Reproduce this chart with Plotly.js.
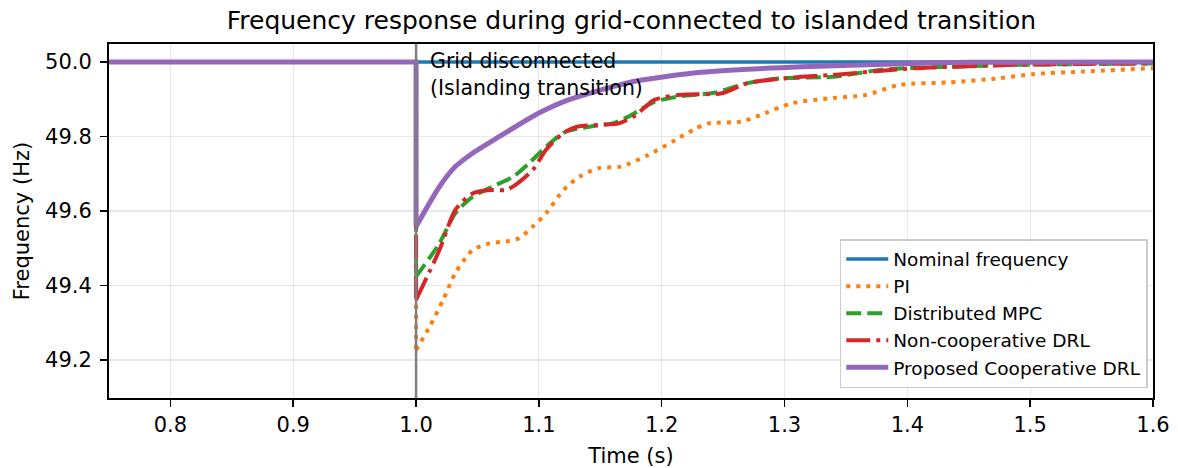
<!DOCTYPE html>
<html>
<head>
<meta charset="utf-8">
<script src="https://cdn.plot.ly/plotly-3.0.1.min.js"></script>
<style>html,body{margin:0;padding:0;background:#fff;}#chart{width:1178px;height:468px;}</style>
</head>
<body>
<div id="chart"></div>
<script>
// Time (s) and frequency (Hz) values
const preT = [0.75, 1.0];          // before the grid disconnection all controllers sit at nominal
const preF = [50.0, 50.0];

const nominalT = [0.75, 1.6];
const nominalF = [50.0, 50.0];

const piT = [1.0, 1.011, 1.022, 1.032, 1.046, 1.06, 1.073, 1.084, 1.095, 1.106, 1.12, 1.133, 1.149, 1.167, 1.189, 1.211, 1.227, 1.238, 1.265, 1.284, 1.306, 1.339, 1.366, 1.393, 1.434, 1.475, 1.502, 1.543, 1.6];
const piF = [49.227, 49.289, 49.361, 49.433, 49.495, 49.513, 49.518, 49.527, 49.558, 49.594, 49.656, 49.692, 49.715, 49.719, 49.75, 49.79, 49.82, 49.835, 49.84, 49.862, 49.889, 49.903, 49.911, 49.938, 49.945, 49.956, 49.967, 49.974, 49.983];

const mpcT = [1.0, 1.019, 1.032, 1.046, 1.062, 1.079, 1.092, 1.106, 1.122, 1.141, 1.16, 1.173, 1.194, 1.216, 1.243, 1.27, 1.298, 1.339, 1.379, 1.434, 1.488, 1.6];
const mpcF = [49.424, 49.513, 49.594, 49.638, 49.665, 49.692, 49.728, 49.773, 49.813, 49.826, 49.835, 49.853, 49.893, 49.908, 49.917, 49.943, 49.956, 49.96, 49.979, 49.987, 49.992, 49.996];

const ncT = [1.0, 1.019, 1.032, 1.046, 1.06, 1.073, 1.081, 1.095, 1.106, 1.12, 1.131, 1.149, 1.165, 1.178, 1.194, 1.216, 1.249, 1.27, 1.311, 1.339, 1.406, 1.488, 1.6];
const ncF = [49.361, 49.495, 49.603, 49.647, 49.656, 49.656, 49.67, 49.71, 49.765, 49.809, 49.826, 49.831, 49.835, 49.855, 49.898, 49.912, 49.916, 49.943, 49.959, 49.965, 49.983, 49.992, 49.996];

const propT = [1.0, 1.019, 1.032, 1.046, 1.068, 1.09, 1.102, 1.124, 1.151, 1.178, 1.232, 1.314, 1.396, 1.45, 1.6];
const propF = [49.558, 49.665, 49.719, 49.755, 49.80, 49.844, 49.866, 49.898, 49.925, 49.948, 49.972, 49.987, 49.995, 49.999, 50.0];

const xTicks = [0.8, 0.9, 1.0, 1.1, 1.2, 1.3, 1.4, 1.5, 1.6];
const yTicks = [49.2, 49.4, 49.6, 49.8, 50.0];
const eventTime = 1.0;

const series = [
  {name: 'PI', t: piT, f: piF, color: '#ff7f0e', width: 4, dash: '4px,6px'},
  {name: 'Distributed MPC', t: mpcT, f: mpcF, color: '#2ca02c', width: 4, dash: '15px,6px'},
  {name: 'Non-cooperative DRL', t: ncT, f: ncF, color: '#d62728', width: 4, dash: '24px,6px,4px,6px'},
  {name: 'Proposed Cooperative DRL', t: propT, f: propF, color: '#9467bd', width: 5, dash: 'solid'}
];

const traces = [];
traces.push({x: nominalT, y: nominalF, name: 'Nominal frequency', mode: 'lines', line: {color: '#1f77b4', width: 3.5}});
// pre-event flat part + vertical drop (linear), drawn over the nominal line
series.forEach(s => {
  traces.push({x: preT.concat([s.t[0]]), y: preF.concat([s.f[0]]), mode: 'lines', showlegend: false, legendgroup: s.name,
    line: {color: s.color, width: s.width, dash: s.dash}, hoverinfo: 'skip'});
});
series.forEach(s => {
  traces.push({x: s.t, y: s.f, name: s.name, legendgroup: s.name, mode: 'lines',
    line: {color: s.color, width: s.width, dash: s.dash, shape: 'spline', smoothing: 0.7}});
});

const fam = 'DejaVu Sans';
const axisCommon = {
  showline: true, linecolor: '#000', linewidth: 2, mirror: true,
  ticks: 'outside', ticklen: 7, tickwidth: 1.5, tickcolor: '#000',
  showgrid: true, gridcolor: 'rgba(0,0,0,0.09)', gridwidth: 1.2,
  zeroline: false,
  tickfont: {family: fam, size: 21, color: '#000'}
};

const layout = {
  width: 1178, height: 468,
  margin: {l: 109, r: 25, t: 44, b: 70},
  paper_bgcolor: '#fff', plot_bgcolor: '#fff',
  font: {family: fam, color: '#000'},
  title: {text: 'Frequency response during grid-connected to islanded transition', font: {family: fam, size: 25, color: '#000'}, x: 0.536, xanchor: 'center', y: 0.957, yanchor: 'middle'},
  xaxis: Object.assign({}, axisCommon, {range: [0.75, 1.6], tickvals: xTicks, ticktext: xTicks.map(v => v.toFixed(1)), title: {text: 'Time (s)', font: {family: fam, size: 21, color: '#000'}, standoff: 13}}),
  yaxis: Object.assign({}, axisCommon, {range: [49.098, 50.048], tickvals: yTicks, ticktext: yTicks.map(v => v.toFixed(1)), ticklabelstandoff: 4, title: {text: 'Frequency (Hz)', font: {family: fam, size: 21, color: '#000'}, standoff: 10}}),
  showlegend: true,
  legend: {x: 0.995, xanchor: 'right', y: 0.028, yanchor: 'bottom', traceorder: 'normal', itemwidth: 42, bgcolor: 'rgba(255,255,255,0.85)', bordercolor: '#cccccc', borderwidth: 1.5, font: {family: fam, size: 18.5, color: '#000'}, tracegroupgap: 0},
  shapes: [{type: 'line', xref: 'x', yref: 'paper', x0: eventTime, x1: eventTime, y0: 0, y1: 1, line: {color: '#7f7f7f', width: 2.5}, layer: 'above'}],
  annotations: [{xref: 'x', yref: 'y', x: 1.01, y: 50.04, xanchor: 'left', yanchor: 'top', align: 'left', showarrow: false, text: 'Grid disconnected<br>(Islanding transition)', font: {family: fam, size: 20.5, color: '#000'}}]
};

Plotly.newPlot('chart', traces, layout, {displayModeBar: false, staticPlot: true});
</script>
</body>
</html>
